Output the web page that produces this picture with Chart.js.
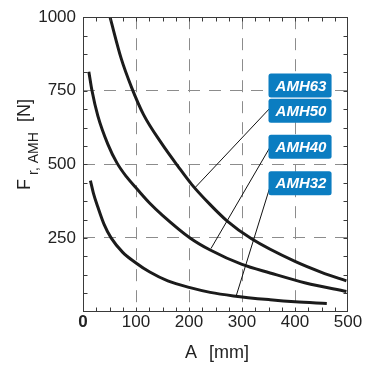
<!DOCTYPE html>
<html><head><meta charset="utf-8">
<script src="https://cdn.jsdelivr.net/npm/chart.js@4/dist/chart.umd.min.js"></script>
<style>html,body{margin:0;padding:0;background:#fff;}#wrap{width:369px;height:365px;position:relative}</style>
</head><body><div id="wrap"><canvas id="c" width="369" height="365"></canvas></div>
<script>
// ---- data ----
const xTickValues = [0, 100, 200, 300, 400, 500];
const yTickValues = [250, 500, 750, 1000];
const seriesNames = ['AMH63', 'AMH50', 'AMH40', 'AMH32'];

// upper curve (AMH63 / AMH50)
const upperA = [51, 72, 92, 114, 148, 179, 205, 240, 271, 318, 400, 450, 497];
const upperF = [1000, 860, 760, 670, 572, 494, 432, 363, 309, 247, 170, 133, 104];
// middle curve (AMH40)
const middleA = [11, 17, 28, 47, 64, 82, 104, 126, 150, 202, 240, 300, 353, 420, 497];
const middleF = [815, 750, 665, 568, 505, 458, 412, 368, 327, 250, 209, 160, 131, 97, 68];
// lower curve (AMH32)
const lowerA = [14, 20, 28, 40, 53, 75, 100, 126, 160, 202, 240, 284, 353, 400, 460];
const lowerF = [445, 400, 355, 295, 250, 201, 165, 134, 104, 81, 65, 53, 40, 33, 27];

function pts(a, f) { return a.map((v, i) => ({ x: v, y: f[i] })); }

const FONT = "'Liberation Sans', Arial, Helvetica, sans-serif";
const TXT = '#222';

// label boxes + leader lines (positions in data units)
const callouts = [
  { name: seriesNames[0], f: 768 },
  { name: seriesNames[1], f: 682, from: 693, to: [211, 420] },
  { name: seriesNames[2], f: 560, from: 561, to: [241.5, 214] },
  { name: seriesNames[3], f: 436, from: 429, to: [288.7, 51] }
];

const decor = {
  id: 'decor',
  beforeDraw(chart) {
    const c = chart.ctx;
    c.save(); c.fillStyle = '#fff'; c.fillRect(0, 0, chart.width, chart.height); c.restore();
  },
  afterDatasetsDraw(chart) {
    const c = chart.ctx, a = chart.chartArea, xs = chart.scales.x, ys = chart.scales.y;
    c.save();
    // frame
    const L = Math.round(a.left) + 0.5, R = Math.round(a.right) - 0.5, T = Math.round(a.top) + 0.5, B = Math.round(a.bottom) - 0.5;
    c.strokeStyle = '#3a3a3a'; c.lineWidth = 1;
    c.strokeRect(L, T, R - L, B - T);
    // minor ticks
    c.beginPath();
    for (let v = 25; v < 500; v += 25) {
      const px = Math.round(xs.getPixelForValue(v)) + 0.5;
      c.moveTo(px, B); c.lineTo(px, B - 4);
      c.moveTo(px, T); c.lineTo(px, T + 4);
    }
    for (let v = 62.5; v < 1000; v += 62.5) {
      const py = Math.round(ys.getPixelForValue(v)) + 0.5;
      c.moveTo(L, py); c.lineTo(L + 4, py);
      c.moveTo(R, py); c.lineTo(R - 4, py);
    }
    c.stroke();
    // leader lines
    c.strokeStyle = '#111'; c.lineWidth = 1;
    const bx0 = xs.getPixelForValue(350), bx1 = xs.getPixelForValue(469);
    callouts.forEach(o => {
      if (!o.to) return;
      c.beginPath();
      c.moveTo(bx0 + 2, ys.getPixelForValue(o.from));
      c.lineTo(xs.getPixelForValue(o.to[0]), ys.getPixelForValue(o.to[1]));
      c.stroke();
    });
    // boxes
    callouts.forEach(o => {
      const cy = ys.getPixelForValue(o.f);
      c.fillStyle = '#0b7dc1';
      c.beginPath();
      c.roundRect(bx0, cy - 12, bx1 - bx0, 24, 2.5);
      c.fill();
      c.fillStyle = '#fff';
      c.font = "italic bold 15px " + FONT;
      c.textAlign = 'center'; c.textBaseline = 'middle';
      c.fillText(o.name, (bx0 + bx1) / 2 + 1, cy + 1);
    });
    c.restore();
  },
  afterDraw(chart) {
    const c = chart.ctx;
    c.save();
    c.fillStyle = TXT;
    c.textBaseline = 'alphabetic'; c.textAlign = 'left';
    // x title
    c.font = "18px " + FONT;
    c.fillText('A', 185, 358);
    c.fillText('[mm]', 209, 358);
    // y title
    c.translate(29.5, 190);
    c.rotate(-Math.PI / 2);
    c.font = "18px " + FONT;
    c.fillText('F', 0, 0);
    c.font = "14px " + FONT;
    c.fillText('r, AMH', 15, 8.5);
    c.font = "18px " + FONT;
    c.fillText('[N]', 68, 0);
    c.restore();
  }
};

const lineStyle = { borderColor: '#1b1b1b', borderWidth: 3, pointRadius: 0, fill: false, cubicInterpolationMode: 'monotone', showLine: true };

new Chart(document.getElementById('c'), {
  type: 'scatter',
  data: {
    datasets: [
      Object.assign({ label: seriesNames[0] + '/' + seriesNames[1], data: pts(upperA, upperF) }, lineStyle),
      Object.assign({ label: seriesNames[2], data: pts(middleA, middleF) }, lineStyle),
      Object.assign({ label: seriesNames[3], data: pts(lowerA, lowerF) }, lineStyle)
    ]
  },
  options: {
    responsive: false,
    animation: false,
    devicePixelRatio: 1,
    layout: { padding: { left: 0, right: 21, top: 10, bottom: 0 } },
    plugins: { legend: { display: false }, tooltip: { enabled: false } },
    scales: {
      x: {
        type: 'linear', min: 0, max: 500,
        afterFit(s) { s.height = 53.5; },
        afterBuildTicks(s) { s.ticks = xTickValues.map(v => ({ value: v })); },
        ticks: {
          padding: 1, color: TXT, maxRotation: 0, autoSkip: false,
          font: (ctx) => ({ family: FONT, size: 17, weight: (ctx.tick && ctx.tick.value === 0) ? 'bold' : 'normal' })
        },
        grid: {
          drawTicks: false, lineWidth: 1,
          color: (ctx) => (ctx.tick && ctx.tick.value > 0 && ctx.tick.value < 500) ? '#8c8c8c' : 'rgba(0,0,0,0)'
        },
        border: { display: false, dash: [12, 9] }
      },
      y: {
        type: 'linear', min: 0, max: 1000,
        afterFit(s) { s.width = 83; },
        afterBuildTicks(s) { s.ticks = [0].concat(yTickValues).map(v => ({ value: v })); },
        ticks: {
          padding: 7, color: TXT, autoSkip: false,
          font: { family: FONT, size: 17 },
          callback: (v) => v === 0 ? '' : String(v)
        },
        grid: {
          drawTicks: false, lineWidth: 1,
          color: (ctx) => (ctx.tick && ctx.tick.value > 0 && ctx.tick.value < 1000) ? '#8c8c8c' : 'rgba(0,0,0,0)'
        },
        border: { display: false, dash: [12, 9] }
      }
    }
  },
  plugins: [decor]
});
</script>
</body></html>
